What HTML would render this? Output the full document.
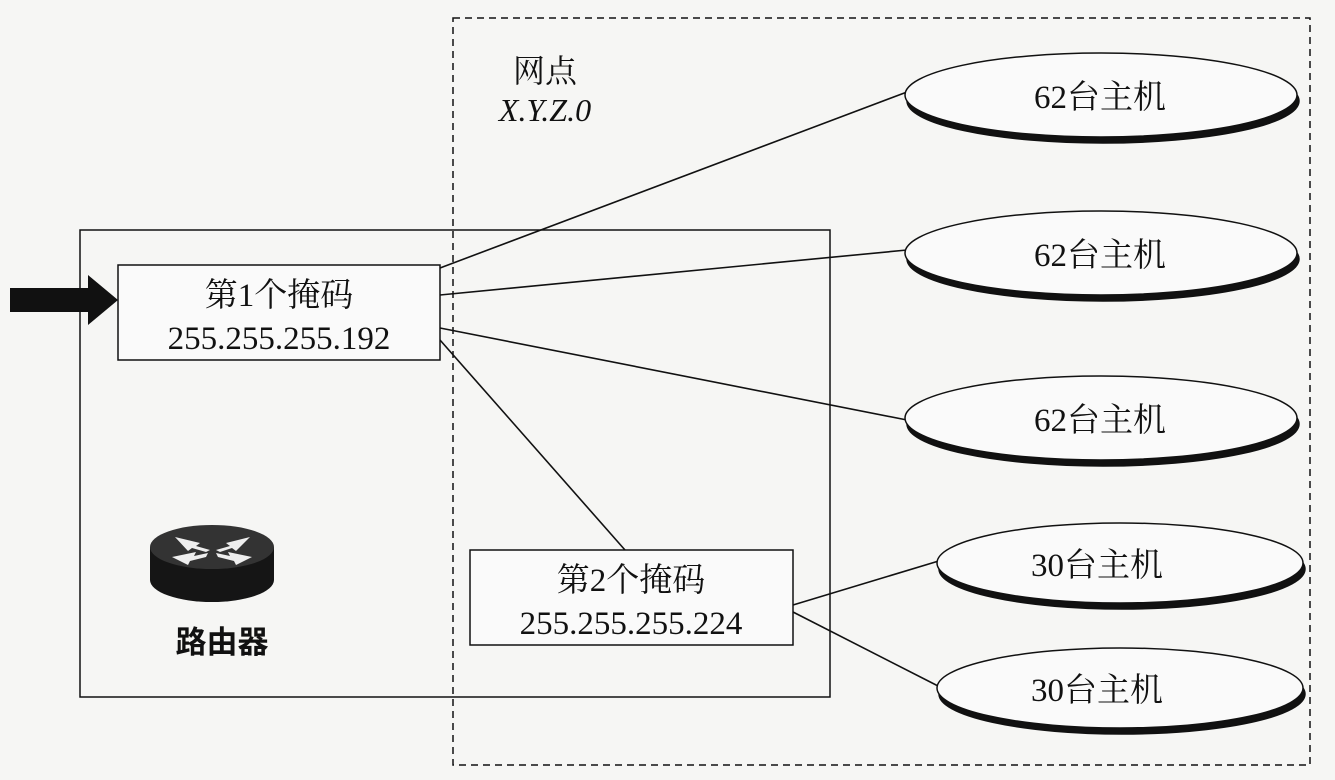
<!DOCTYPE html>
<html><head><meta charset="utf-8"><style>
html,body{margin:0;padding:0;background:#f6f6f4;}
svg{display:block}
text{font-family:"Liberation Serif","Noto Serif CJK SC",serif;fill:#111}
</style></head><body>
<svg width="1335" height="780" viewBox="0 0 1335 780" xmlns="http://www.w3.org/2000/svg">
<rect width="1335" height="780" fill="#f6f6f4"/>
<rect x="453" y="18" width="857" height="747" fill="none" stroke="#111" stroke-width="1.5" stroke-dasharray="7,5"/>
<rect x="80" y="230" width="750" height="467" fill="none" stroke="#111" stroke-width="1.5"/>
<g stroke="#111" stroke-width="1.6">
<line x1="440" y1="268" x2="907" y2="92"/>
<line x1="440" y1="295" x2="907" y2="250"/>
<line x1="440" y1="328" x2="907" y2="420"/>
<line x1="440" y1="340" x2="625" y2="550"/>
<line x1="793" y1="605" x2="942" y2="560"/>
<line x1="793" y1="612" x2="942" y2="688"/>
</g>
<polygon points="10,288 88,288 88,275 118,300 88,325 88,312 10,312" fill="#111"/>
<rect x="118" y="265" width="322" height="95" fill="#fafafa" stroke="#111" stroke-width="1.5"/>
<text x="279" y="306" font-size="33" text-anchor="middle">第1个掩码</text>
<text x="279" y="349" font-size="33" text-anchor="middle">255.255.255.192</text>
<rect x="470" y="550" width="323" height="95" fill="#fafafa" stroke="#111" stroke-width="1.5"/>
<text x="631" y="591" font-size="33" text-anchor="middle">第2个掩码</text>
<text x="631" y="634" font-size="33" text-anchor="middle">255.255.255.224</text>
<g stroke="#111" stroke-width="1.5">
<ellipse cx="1103" cy="101" rx="196" ry="42" fill="#111"/>
<ellipse cx="1101" cy="95" rx="196" ry="42" fill="#fafafa"/>
<ellipse cx="1103" cy="259" rx="196" ry="42" fill="#111"/>
<ellipse cx="1101" cy="253" rx="196" ry="42" fill="#fafafa"/>
<ellipse cx="1103" cy="424" rx="196" ry="42" fill="#111"/>
<ellipse cx="1101" cy="418" rx="196" ry="42" fill="#fafafa"/>
<ellipse cx="1122" cy="569" rx="183" ry="40" fill="#111"/>
<ellipse cx="1120" cy="563" rx="183" ry="40" fill="#fafafa"/>
<ellipse cx="1122" cy="694" rx="183" ry="40" fill="#111"/>
<ellipse cx="1120" cy="688" rx="183" ry="40" fill="#fafafa"/>
</g>
<g font-size="33" text-anchor="middle">
<text x="1100" y="108">62台主机</text>
<text x="1100" y="266">62台主机</text>
<text x="1100" y="431">62台主机</text>
<text x="1097" y="576">30台主机</text>
<text x="1097" y="701">30台主机</text>
</g>
<text x="545" y="82" font-size="32" text-anchor="middle">网点</text>
<text x="545" y="121" font-size="32" font-style="italic" text-anchor="middle">X.Y.Z.0</text>
<path d="M150,547 L150,580 A62,22 0 0 0 274,580 L274,547 Z" fill="#151515"/>
<ellipse cx="212" cy="547" rx="62" ry="22" fill="#333"/>
<g fill="#eee">
<polygon points="175,537 200,543 196,546 210,550 206,552 192,548 188,551"/>
<polygon points="250,537 226,543 230,546 216,550 220,552 232,548 236,551"/>
<polygon points="172,557 196,552 194,556 208,553 206,557 190,561 188,565"/>
<polygon points="252,557 228,552 230,556 216,553 218,557 234,561 236,565"/>
</g>
<text x="222" y="653" font-size="31" text-anchor="middle" font-weight="bold" style="font-family:'Noto Sans CJK SC',sans-serif">路由器</text>
</svg>
</body></html>
